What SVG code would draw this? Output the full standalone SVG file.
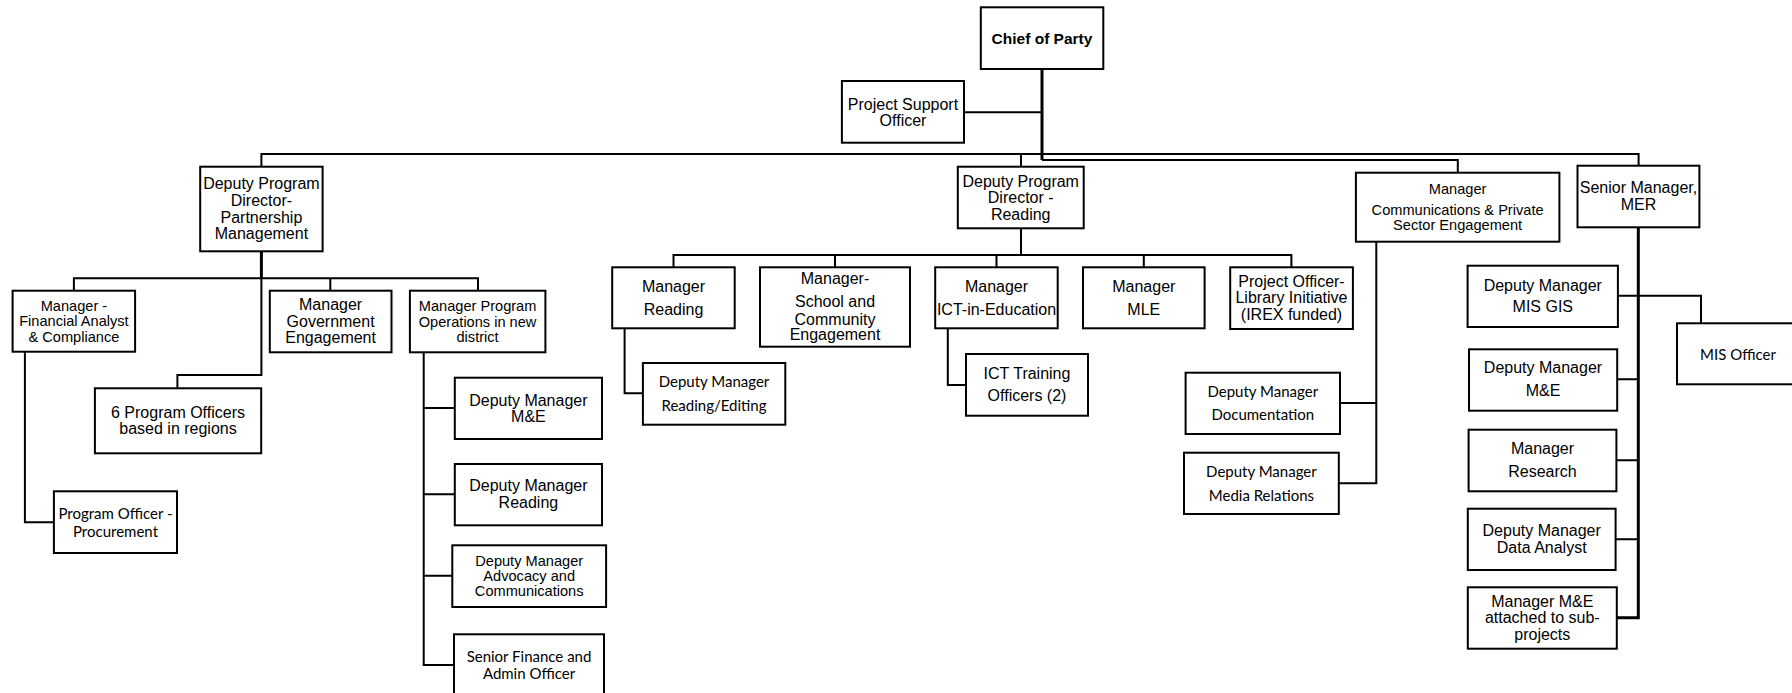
<svg xmlns="http://www.w3.org/2000/svg" width="1792" height="693" viewBox="0 0 1792 693">
<style>
.box{fill:#fff;stroke:#000;stroke-width:2}
.t{font-family:"Liberation Sans",Arial,sans-serif;font-size:16px;text-anchor:middle;fill:#000}
.s{font-size:14.6px}
.b{font-weight:bold;font-size:15.5px}
.c{font-family:Lato,"Open Sans",sans-serif;font-size:15px;text-anchor:middle;fill:#000}
.conn{fill:none;stroke:#000;stroke-width:2}
.thick{stroke-width:3}
</style>
<rect width="1792" height="693" fill="#fff"/>
<g id="connectors">
<path class="conn thick" d="M1042 69V160"/>
<path class="conn" d="M964 112.3H1042"/>
<path class="conn" d="M261.4 166.7V154H1638.6V165.7"/>
<path class="conn" d="M1021 154V166.7"/>
<path class="conn" d="M1042 160H1457.8V172.7"/>
<path class="conn thick" d="M261.4 251.3V278.3"/>
<path class="conn" d="M261.4 278.3V375H177.4V388.3"/>
<path class="conn" d="M73.9 290.7V278.3H478V290.7M330.3 278.3V290.7"/>
<path class="conn" d="M24.9 351.7V522.3H53.9"/>
<path class="conn" d="M423.7 352.3V665H454M423.7 408H454.8M423.7 494.3H454.8M423.7 575.7H452.3"/>
<path class="conn" d="M1021 228.3V255M673.5 267.3V255H1291.4V267.3M835 255V267.3M996.5 255V267.3M1143.8 255V267.3"/>
<path class="conn" d="M624.6 328.3V393.3H642.9"/>
<path class="conn" d="M947.8 328.3V385H966"/>
<path class="conn" d="M1376.3 241.7V483.3H1338.8M1340 403H1376.3"/>
<path class="conn thick" d="M1638.3 227.3V617.7H1616.8"/>
<path class="conn" d="M1617.9 295.7H1701V323.3M1617.2 379.3H1638.3M1616.4 460.3H1638.3M1615.6 539.3H1638.3"/>
</g>
<g id="chief"><rect class="box" x="980.8" y="7.3" width="122.5" height="61.7"/><text class="t b" x="1042" y="44">Chief of Party</text></g>
<g id="pso"><rect class="box" x="841.9" y="81" width="122.1" height="61.7"/><text class="t" x="903" y="109.5">Project Support</text><text class="t" x="903" y="125.5">Officer</text></g>
<g id="dpd-partnership"><rect class="box" x="200.2" y="166.7" width="122.4" height="84.6"/><text class="t" x="261.4" y="189">Deputy Program</text><text class="t" x="261.4" y="206">Director-</text><text class="t" x="261.4" y="223">Partnership</text><text class="t" x="261.4" y="239">Management</text></g>
<g id="dpd-reading"><rect class="box" x="957.8" y="166.7" width="125.9" height="61.6"/><text class="t" x="1020.7" y="186.5">Deputy Program</text><text class="t" x="1020.7" y="203">Director -</text><text class="t" x="1020.7" y="220">Reading</text></g>
<g id="mgr-comms"><rect class="box" x="1355.9" y="172.7" width="203.5" height="69"/><text class="t s" x="1457.6" y="194">Manager</text><text class="t s" x="1457.6" y="215">Communications &amp; Private</text><text class="t s" x="1457.6" y="230">Sector Engagement</text></g>
<g id="senior-mer"><rect class="box" x="1577.5" y="165.7" width="121.9" height="61.6"/><text class="t" x="1638.5" y="193">Senior Manager,</text><text class="t" x="1638.5" y="210">MER</text></g>
<g id="mgr-financial"><rect class="box" x="12.6" y="290.7" width="122.5" height="61"/><text class="t s" x="73.9" y="311">Manager -</text><text class="t s" x="73.9" y="326">Financial Analyst</text><text class="t s" x="73.9" y="342">&amp; Compliance</text></g>
<g id="mgr-govt"><rect class="box" x="269.8" y="290.7" width="121.7" height="61.6"/><text class="t" x="330.6" y="310">Manager</text><text class="t" x="330.6" y="327">Government</text><text class="t" x="330.6" y="343">Engagement</text></g>
<g id="mgr-ops"><rect class="box" x="409.9" y="290.7" width="135.5" height="61.6"/><text class="t s" x="477.6" y="311">Manager Program</text><text class="t s" x="477.6" y="327">Operations in new</text><text class="t s" x="477.6" y="342">district</text></g>
<g id="program-officers"><rect class="box" x="94.9" y="388.3" width="166.3" height="65"/><text class="t" x="178" y="418">6 Program Officers</text><text class="t" x="178" y="434">based in regions</text></g>
<g id="po-procurement"><rect class="box" x="53.9" y="491.3" width="123.1" height="61.7"/><text class="c" x="115.5" y="519">Program Officer -</text><text class="c" x="115.5" y="536.5">Procurement</text></g>
<g id="ops-dm-me"><rect class="box" x="454.8" y="377.7" width="147.2" height="61.3"/><text class="t" x="528.4" y="405.5">Deputy Manager</text><text class="t" x="528.4" y="422">M&amp;E</text></g>
<g id="ops-dm-reading"><rect class="box" x="454.8" y="464" width="147.2" height="61.3"/><text class="t" x="528.4" y="491">Deputy Manager</text><text class="t" x="528.4" y="508">Reading</text></g>
<g id="ops-dm-advocacy"><rect class="box" x="452.3" y="545.3" width="153.8" height="61.7"/><text class="t s" x="529.2" y="566">Deputy Manager</text><text class="t s" x="529.2" y="581">Advocacy and</text><text class="t s" x="529.2" y="596">Communications</text></g>
<g id="ops-finance"><rect class="box" x="454" y="634.3" width="150" height="70"/><text class="c" x="529" y="661.5">Senior Finance and</text><text class="c" x="529" y="679">Admin Officer</text></g>
<g id="mgr-reading"><rect class="box" x="612.2" y="267.3" width="122.5" height="61"/><text class="t" x="673.5" y="292">Manager</text><text class="t" x="673.5" y="315">Reading</text></g>
<g id="mgr-school"><rect class="box" x="760" y="267.3" width="150" height="79.4"/><text class="t" x="835" y="284">Manager-</text><text class="t" x="835" y="307">School and</text><text class="t" x="835" y="324.5">Community</text><text class="t" x="835" y="340">Engagement</text></g>
<g id="mgr-ict"><rect class="box" x="935.2" y="267.3" width="122.5" height="61"/><text class="t" x="996.5" y="292">Manager</text><text class="t" x="996.5" y="315">ICT-in-Education</text></g>
<g id="mgr-mle"><rect class="box" x="1083" y="267.3" width="121.6" height="61"/><text class="t" x="1143.8" y="292">Manager</text><text class="t" x="1143.8" y="315">MLE</text></g>
<g id="po-library"><rect class="box" x="1230.2" y="267.3" width="122.7" height="61.7"/><text class="t" x="1291.5" y="287">Project Officer-</text><text class="t" x="1291.5" y="303">Library Initiative</text><text class="t" x="1291.5" y="320">(IREX funded)</text></g>
<g id="dm-reading-editing"><rect class="box" x="642.9" y="363" width="142.4" height="61.7"/><text class="c" x="714" y="387">Deputy Manager</text><text class="c" x="714" y="411">Reading/Editing</text></g>
<g id="ict-training"><rect class="box" x="966" y="354" width="122" height="61.7"/><text class="t" x="1027" y="379">ICT Training</text><text class="t" x="1027" y="400.5">Officers (2)</text></g>
<g id="dm-documentation"><rect class="box" x="1185.6" y="372.7" width="154.4" height="61.3"/><text class="c" x="1262.8" y="397">Deputy Manager</text><text class="c" x="1262.8" y="420">Documentation</text></g>
<g id="dm-media"><rect class="box" x="1184" y="452.7" width="154.8" height="61.3"/><text class="c" x="1261.4" y="476.5">Deputy Manager</text><text class="c" x="1261.4" y="500.5">Media Relations</text></g>
<g id="dm-mis-gis"><rect class="box" x="1467.6" y="265.7" width="150.3" height="61.3"/><text class="t" x="1542.8" y="290.5">Deputy Manager</text><text class="t" x="1542.8" y="312">MIS GIS</text></g>
<g id="mis-officer"><rect class="box" x="1677" y="323.3" width="130" height="61"/><text class="c" x="1738" y="359.5">MIS Officer</text></g>
<g id="mer-dm-me"><rect class="box" x="1469" y="349.3" width="148.2" height="61.4"/><text class="t" x="1543" y="373">Deputy Manager</text><text class="t" x="1543" y="396">M&amp;E</text></g>
<g id="mgr-research"><rect class="box" x="1468.6" y="429.7" width="147.8" height="61.6"/><text class="t" x="1542.5" y="454">Manager</text><text class="t" x="1542.5" y="477">Research</text></g>
<g id="dm-data"><rect class="box" x="1467.8" y="508.7" width="147.8" height="61.3"/><text class="t" x="1541.7" y="536">Deputy Manager</text><text class="t" x="1541.7" y="553">Data Analyst</text></g>
<g id="mgr-me-sub"><rect class="box" x="1467.8" y="587.3" width="149" height="61.4"/><text class="t" x="1542.3" y="607">Manager M&amp;E</text><text class="t" x="1542.3" y="623">attached to sub-</text><text class="t" x="1542.3" y="640">projects</text></g>
</svg>
